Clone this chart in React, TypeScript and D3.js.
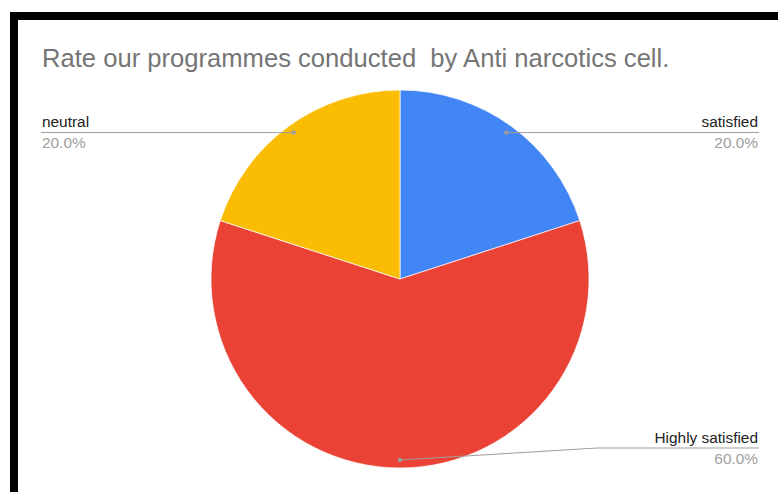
import React, { useEffect, useRef } from 'react';
import * as d3 from 'd3';

const title = 'Rate our programmes conducted  by Anti narcotics cell.';
const categories = ['satisfied', 'Highly satisfied', 'neutral'];
const values = [20, 60, 20];
const colors = ['#4285f4', '#ea4335', '#fbbc04'];

interface Slice {
  name: string;
  value: number;
  color: string;
}

export default function App() {
  const ref = useRef<SVGSVGElement>(null);

  useEffect(() => {
    const width = 778;
    const height = 492;
    const cx = 400;
    const cy = 279;
    const radius = 189;

    const svg = d3.select(ref.current);
    svg.selectAll('*').remove();

    // black frame, cropped on the right and bottom
    svg.append('rect').attr('x', 10).attr('y', 12).attr('width', width - 10).attr('height', height - 12).attr('fill', '#000');
    svg.append('rect').attr('x', 18).attr('y', 20).attr('width', width - 18).attr('height', height - 20).attr('fill', '#fff');

    svg
      .append('text')
      .attr('x', 42)
      .attr('y', 67)
      .attr('font-family', '"Liberation Sans", Arial, sans-serif')
      .attr('font-size', 25.6)
      .attr('fill', '#757575')
      .style('white-space', 'pre')
      .text(title);

    const data: Slice[] = categories.map((name, i) => ({ name, value: values[i], color: colors[i] }));
    const total = d3.sum(values);

    const pie = d3
      .pie<Slice>()
      .value((d) => d.value)
      .sort(null);
    const arcs = pie(data);

    const arc = d3.arc<d3.PieArcDatum<Slice>>().innerRadius(0).outerRadius(radius);
    const dotArc = d3.arc<d3.PieArcDatum<Slice>>().innerRadius(181).outerRadius(181);

    const g = svg.append('g').attr('transform', `translate(${cx}, ${cy})`);
    g.selectAll('path')
      .data(arcs)
      .enter()
      .append('path')
      .attr('d', arc)
      .attr('fill', (d) => d.data.color)
      .attr('stroke', '#fff')
      .attr('stroke-width', 0.7);

    const labels = svg.append('g').attr('font-family', '"Liberation Sans", Arial, sans-serif').attr('font-size', 15.4);

    arcs.forEach((d) => {
      const [dx, dy] = dotArc.centroid(d);
      const px = cx + dx;
      const py = cy + dy;
      const right = px >= cx;
      const lineY = Math.min(py, height - 44);
      const endX = right ? 759 : 41;
      const textX = right ? 758 : 42;
      const anchor = right ? 'end' : 'start';

      const path = d3.path();
      path.moveTo(px, py);
      if (lineY !== py) path.lineTo(597, lineY);
      path.lineTo(endX, lineY);

      labels
        .append('path')
        .attr('d', path.toString())
        .attr('fill', 'none')
        .attr('stroke', '#9e9e9e')
        .attr('stroke-width', 1);
      labels.append('circle').attr('cx', px).attr('cy', py).attr('r', 2.2).attr('fill', '#9e9e9e');

      labels
        .append('text')
        .attr('x', textX)
        .attr('y', lineY - 5.5)
        .attr('text-anchor', anchor)
        .attr('fill', '#222')
        .text(d.data.name);
      labels
        .append('text')
        .attr('x', textX)
        .attr('y', lineY + 15.5)
        .attr('text-anchor', anchor)
        .attr('fill', '#9e9e9e')
        .text(d3.format('.1f')((d.data.value / total) * 100) + '%');
    });
  }, []);

  return (
    <svg
      ref={ref}
      width={778}
      height={492}
      style={{ position: 'absolute', left: 0, top: 0, display: 'block', background: '#fff' }}
    />
  );
}
